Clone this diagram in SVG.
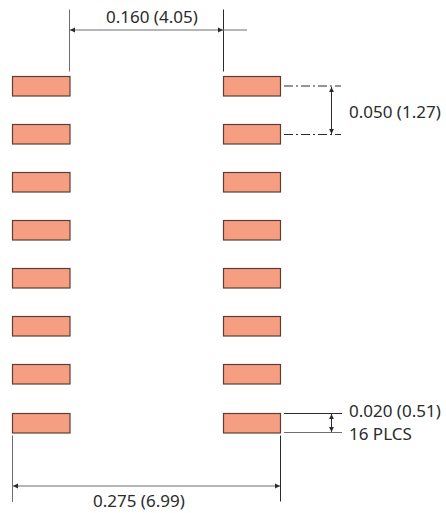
<svg xmlns="http://www.w3.org/2000/svg" width="446" height="513" viewBox="0 0 446 513">
<style>
.pad{fill:#f59e82;stroke:#5a3f36;stroke-width:1.2}
.ln{fill:none;stroke:#2b2b2b;stroke-width:1}
.gr{fill:none;stroke:#6e6e6e;stroke-width:1}
.dd{stroke-dasharray:9 3 2 3}
text{font-family:"Noto Sans","Open Sans",sans-serif;font-size:17px;fill:#2b2b2b}
</style>
<defs>
<marker id="a" markerUnits="userSpaceOnUse" markerWidth="6" markerHeight="6" refX="5" refY="3" orient="auto-start-reverse"><path d="M0 0.6L5 3L0 5.4z" fill="#2b2b2b"/></marker>
</defs>
<g id="pads-left">
<rect class="pad" x="12.5" y="76.5" width="57.5" height="19.500"/>
<rect class="pad" x="12.5" y="124.5" width="57.5" height="19.500"/>
<rect class="pad" x="12.5" y="172.5" width="57.5" height="19.500"/>
<rect class="pad" x="12.5" y="220.5" width="57.5" height="19.500"/>
<rect class="pad" x="12.5" y="268.5" width="57.5" height="19.500"/>
<rect class="pad" x="12.5" y="316.5" width="57.5" height="19.500"/>
<rect class="pad" x="12.5" y="364.5" width="57.5" height="19.500"/>
<rect class="pad" x="12.5" y="413.5" width="57.5" height="19.500"/>
</g>
<g id="pads-right">
<rect class="pad" x="223.5" y="76.5" width="57" height="19.500"/>
<rect class="pad" x="223.5" y="124.5" width="57" height="19.500"/>
<rect class="pad" x="223.5" y="172.5" width="57" height="19.500"/>
<rect class="pad" x="223.5" y="220.5" width="57" height="19.500"/>
<rect class="pad" x="223.5" y="268.5" width="57" height="19.500"/>
<rect class="pad" x="223.5" y="316.5" width="57" height="19.500"/>
<rect class="pad" x="223.5" y="364.5" width="57" height="19.500"/>
<rect class="pad" x="223.5" y="413.5" width="57" height="19.500"/>
</g>
<g id="connectors">
<path class="gr" d="M69.500 9.500V71.500"/>
<path class="ln" d="M223.500 9.500V71.500"/>
<path class="gr" d="M70 30H223" marker-start="url(#a)" marker-end="url(#a)"/>
<path class="gr" d="M223 30H247"/>
<path class="ln dd" d="M284 86H341"/>
<path class="ln dd" d="M284 134.500H341"/>
<path class="ln" d="M331.500 87V134" marker-start="url(#a)" marker-end="url(#a)"/>
<path class="ln" d="M284 413.500H342"/>
<path class="gr" d="M284 432.500H342"/>
<path class="ln" d="M331.500 414V432" marker-start="url(#a)" marker-end="url(#a)"/>
<path class="gr" d="M12.500 435.500V502"/>
<path class="ln" d="M280.500 435.500V501.500"/>
<path class="gr" d="M13 486H280" marker-start="url(#a)" marker-end="url(#a)"/>
</g>
<g id="labels">
<text x="106" y="23">0.160 (4.05)</text>
<text x="349" y="118">0.050 (1.27)</text>
<text x="349" y="417">0.020 (0.51)</text>
<text x="349" y="440">16 PLCS</text>
<text x="93" y="507">0.275 (6.99)</text>
</g>
</svg>
